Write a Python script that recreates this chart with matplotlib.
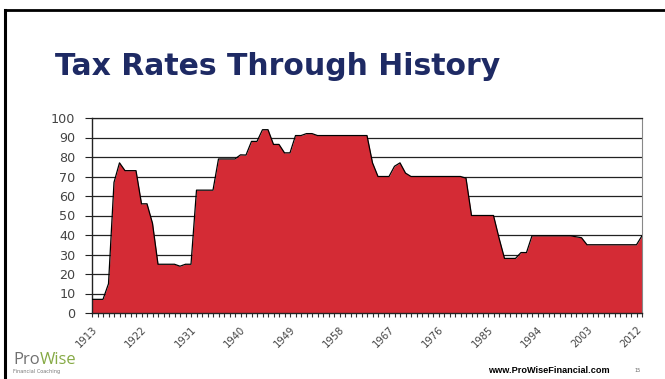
import numpy as np
import matplotlib
matplotlib.use("Agg")
import matplotlib.pyplot as plt
from matplotlib.lines import Line2D

# top marginal income tax rate, %, one value per year 1913..2013
years = list(range(1913, 2014))
rates = [7, 7, 7, 15, 67, 77, 73, 73, 73, 56,
         56, 46, 25, 25, 25, 25, 24, 25, 25, 63,
         63, 63, 63, 79, 79, 79, 79, 81.1, 81, 88,
         88, 94, 94, 86.45, 86.45, 82.13, 82.13, 91, 91, 92,
         92, 91, 91, 91, 91, 91, 91, 91, 91, 91,
         91, 77, 70, 70, 70, 75.25, 77, 71.75, 70, 70,
         70, 70, 70, 70, 70, 70, 70, 70, 69.13, 50,
         50, 50, 50, 50, 38.5, 28, 28, 28, 31, 31,
         39.6, 39.6, 39.6, 39.6, 39.6, 39.6, 39.6, 39.6, 39.1, 38.6,
         35, 35, 35, 35, 35, 35, 35, 35, 35, 35,
         39.6]
label_years = [1913, 1922, 1931, 1940, 1949, 1958, 1967, 1976, 1985, 1994, 2003, 2012]
y_ticks = [0, 10, 20, 30, 40, 50, 60, 70, 80, 90, 100]

W, H = 665, 379
fig = plt.figure(figsize=(W / 100, H / 100), dpi=100)
fig.patch.set_facecolor("white")

# slide frame (top and left edges only)
fig.add_artist(Line2D([5 / W, 1], [1 - 10 / H, 1 - 10 / H], color="black", lw=2, transform=fig.transFigure))
fig.add_artist(Line2D([5 / W, 5 / W], [0, 1 - 10 / H], color="black", lw=2.2, transform=fig.transFigure))

fig.text(55 / W, 1 - 75 / H, "Tax Rates Through History", fontsize=21.5, fontweight="heavy",
         family="DejaVu Sans", color="#1e2a64", va="baseline", ha="left")

ax = fig.add_axes([92 / W, (H - 313) / H, 550 / W, 195 / H])
ax.fill_between(years, rates, 0, color="#d42b35", lw=0, zorder=2)
ax.plot(years, rates, color="black", lw=0.9, zorder=3)

ax.set_xlim(1913, 2013)
ax.set_ylim(0, 100)
ax.set_yticks(y_ticks)
ax.set_yticklabels([str(v) for v in y_ticks], fontsize=9.2, color="#444444", family="DejaVu Sans")
for v in y_ticks[1:]:
    ax.axhline(v, color="#222222", lw=0.9, zorder=1)

ax.set_xticks(label_years)
ax.set_xticklabels([str(y) for y in label_years], rotation=45, ha="right", va="top",
                   rotation_mode="anchor", fontsize=7.2, color="#444444", family="DejaVu Sans")
ax.set_xticks(years, minor=True)
ax.tick_params(axis="x", which="both", length=3, width=0.8, color="#333333", direction="out", pad=5)
ax.tick_params(axis="y", length=5, width=0.8, color="#222222", pad=7)

for side in ["left", "bottom"]:
    ax.spines[side].set_color("#222222")
    ax.spines[side].set_linewidth(1)
ax.spines["top"].set_color("#222222")
ax.spines["top"].set_linewidth(0.9)
ax.spines["right"].set_color("#888888")
ax.spines["right"].set_linewidth(0.8)

# footer: logo and site address
pro = fig.text(13 / W, 1 - 364 / H, "Pro", fontsize=12, color="#707070", family="Open Sans", va="baseline")
fig.canvas.draw()
pro_box = pro.get_window_extent()
fig.text((pro_box.x1 + 0.5) / W, 1 - 364 / H, "Wise", fontsize=12, color="#86aa45",
         family="Open Sans", va="baseline")
fig.text(13 / W, 1 - 373 / H, "Financial Coaching", fontsize=3.6, color="#777777", va="baseline")
fig.text(488 / W, 1 - 373 / H, "www.ProWiseFinancial.com", fontsize=6.6, fontweight="bold",
         family="Liberation Sans", color="black", va="baseline")
fig.text(634 / W, 1 - 372 / H, "15", fontsize=3.5, color="#666666", va="baseline")

fig.savefig("out.png", dpi=100)
